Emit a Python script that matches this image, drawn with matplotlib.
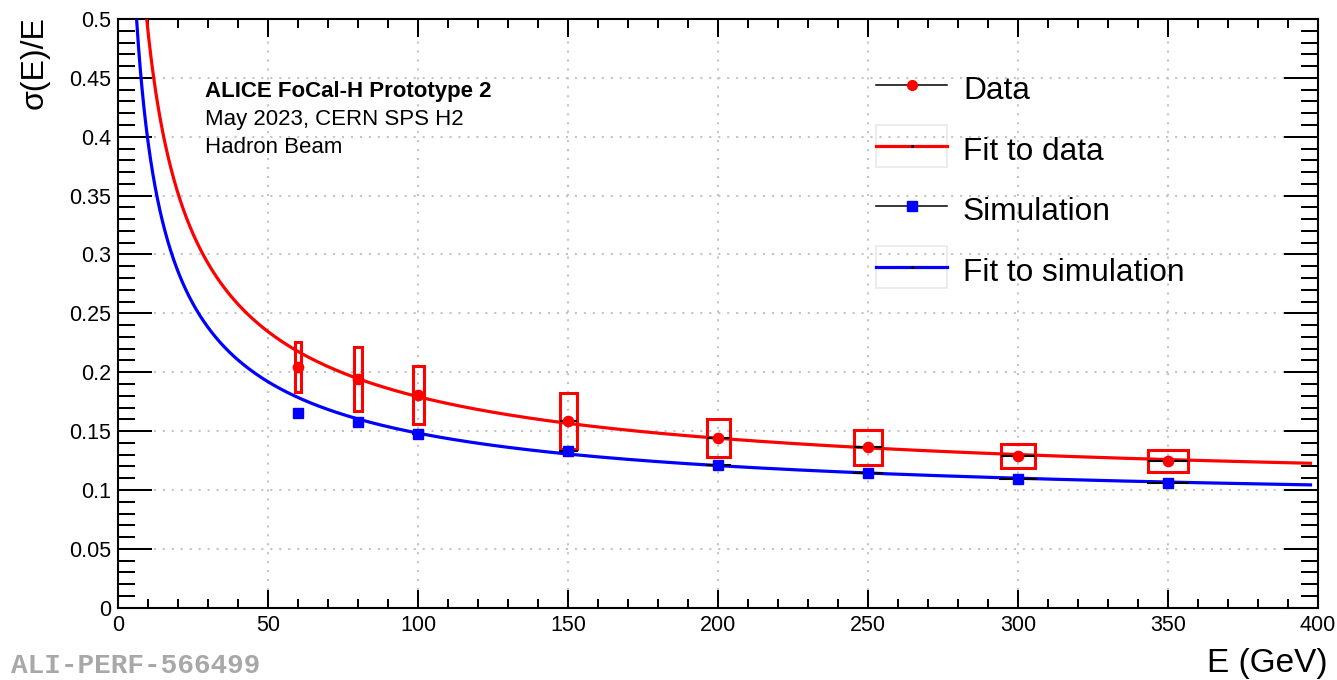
import numpy as np
import matplotlib
matplotlib.use("Agg")
import matplotlib.pyplot as plt
from matplotlib.patches import Rectangle
from matplotlib.lines import Line2D
from matplotlib.ticker import MultipleLocator, FuncFormatter

plt.rcParams["font.family"] = ["Liberation Sans", "DejaVu Sans"]

# Beam energies (GeV) and measured relative resolution
energy = [60, 80, 100, 150, 200, 250, 300, 350]
data_res = [0.2047, 0.1942, 0.1807, 0.1586, 0.1439, 0.1362, 0.1288, 0.1246]
data_syst = [0.0213, 0.0269, 0.0249, 0.0235, 0.0161, 0.0146, 0.0105, 0.0096]
data_xerr = [1.0, 1.35, 1.85, 2.85, 3.8, 4.6, 5.8, 6.7]

# Simulated resolution at the same energies
sim_res = [0.1651, 0.1575, 0.1475, 0.1334, 0.1212, 0.1141, 0.1093, 0.1062]
sim_xerr = [1.2, 1.6, 2.1, 3.2, 4.2, 5.1, 6.2, 7.1]

# Fit parameters: sigma/E = a/sqrt(E) (+) b
fit_data_a, fit_data_b = 1.51, 0.0965
fit_sim_a, fit_sim_b = 1.217, 0.0846
fit_range = (1.0, 397.5)

x_ticks = [0, 50, 100, 150, 200, 250, 300, 350, 400]

W, H = 1337, 680
fig = plt.figure(figsize=(W / 100, H / 100), dpi=100)


def fx(px):
    return px / W


def fy(py):
    return 1 - py / H


ax = fig.add_axes([fx(118.3), fy(607.7), fx(1318.0) - fx(118.3), fy(19.0) - fy(607.7)])
ax.set_xlim(0, 400)
ax.set_ylim(0, 0.5)

# Grid
ax.set_axisbelow(True)
ax.grid(True, which="major", color="#c4c4c4", linestyle=(0, (1, 3.3)), linewidth=1.5)

# Fit curves
e_fine = np.linspace(fit_range[0], fit_range[1], 2000)


def resolution(e, a, b):
    return np.sqrt(a ** 2 / e + b ** 2)


ax.plot(e_fine, resolution(e_fine, fit_data_a, fit_data_b), color="#ff0000", lw=2.3, zorder=3)
ax.plot(e_fine, resolution(e_fine, fit_sim_a, fit_sim_b), color="#0000ff", lw=2.3, zorder=3)

# Systematic uncertainty boxes for the data
for e, r, s, dx in zip(energy, data_res, data_syst, data_xerr):
    ax.add_patch(Rectangle((e - dx, r - s), 2 * dx, 2 * s, fill=False,
                           edgecolor="#ff0000", lw=2.2, zorder=4))

# Statistical error bars and markers
ax.errorbar(energy, sim_res, xerr=sim_xerr, fmt="none", ecolor="black",
            elinewidth=1.5, capsize=0, zorder=5)
ax.errorbar(energy, data_res, xerr=data_xerr, fmt="none", ecolor="black",
            elinewidth=1.5, capsize=0, zorder=5)
ax.plot(energy, sim_res, linestyle="none", marker="s", markersize=7.6,
        markerfacecolor="#0000ff", markeredgecolor="#0000ff", zorder=6)
ax.plot(energy, data_res, linestyle="none", marker="o", markersize=7.4,
        markerfacecolor="#ff0000", markeredgecolor="#ff0000", zorder=6)

# Axes styling
for sp in ax.spines.values():
    sp.set_linewidth(1.5)
ax.set_xticks(x_ticks)
ax.xaxis.set_minor_locator(MultipleLocator(10))
ax.yaxis.set_major_locator(MultipleLocator(0.05))
ax.yaxis.set_minor_locator(MultipleLocator(0.01))
ax.yaxis.set_major_formatter(FuncFormatter(lambda v, _: f"{round(v, 3):g}"))
ax.xaxis.set_major_formatter(FuncFormatter(lambda v, _: f"{v:g}"))
ax.tick_params(which="both", direction="in", top=True, right=True, width=1.45)
ax.tick_params(axis="x", which="major", length=13, pad=5.5, labelsize=15.5)
ax.tick_params(axis="x", which="minor", length=6.5)
ax.tick_params(axis="y", which="major", length=24.5, pad=5, labelsize=15.5)
ax.tick_params(axis="y", which="minor", length=12.5)

# Axis titles
fig.text(fx(35), fy(16), "σ(E)/E", rotation=90, ha="center", va="top", fontsize=23)
fig.text(fx(1328), fy(671.7), "E (GeV)", ha="right", va="baseline", fontsize=24)

# Experiment label
fig.text(fx(205), fy(97.3), "ALICE FoCal-H Prototype 2", fontsize=16, fontweight="bold",
         va="baseline")
fig.text(fx(205), fy(125.3), "May 2023, CERN SPS H2", fontsize=16, va="baseline")
fig.text(fx(205), fy(153.3), "Hadron Beam", fontsize=16, va="baseline")

# Legend
leg_x0, leg_x1, leg_tx = 876, 947, 963
rows = [85, 145.7, 206, 266.7]
labels = ["Data", "Fit to data", "Simulation", "Fit to simulation"]
xm = 0.5 * (leg_x0 + leg_x1)
for i, (yc, lab) in enumerate(zip(rows, labels)):
    if i in (0, 2):
        fig.add_artist(Line2D([fx(leg_x0), fx(leg_x1)], [fy(yc), fy(yc)], color="black", lw=1.1))
        if i == 0:
            fig.add_artist(Line2D([fx(xm)], [fy(yc)], marker="o", markersize=7,
                                  color="#ff0000", linestyle="none"))
        else:
            fig.add_artist(Line2D([fx(xm)], [fy(yc)], marker="s", markersize=7,
                                  color="#0000ff", linestyle="none"))
    else:
        col = "#ff0000" if i == 1 else "#0000ff"
        fig.add_artist(Rectangle((fx(leg_x0), fy(yc + 21)), fx(leg_x1) - fx(leg_x0),
                                 fy(yc - 21) - fy(yc + 21), fill=False,
                                 edgecolor="#ebebeb", lw=1.3, transform=fig.transFigure))
        fig.add_artist(Line2D([fx(leg_x0), fx(leg_x1)], [fy(yc), fy(yc)], color=col, lw=2.3))
        fig.add_artist(Line2D([fx(xm)], [fy(yc)], marker="s", markersize=1.2,
                              color="black", linestyle="none"))
    fig.text(fx(leg_tx), fy(yc + 14.3), lab, fontsize=22.8, va="baseline")

# Figure identifier
fig.text(fx(11), fy(679), "ALI-PERF-566499", family="Liberation Mono", fontweight="bold",
         fontsize=20, color="#a8a8a8", va="bottom")

fig.savefig("out.png", dpi=100)
